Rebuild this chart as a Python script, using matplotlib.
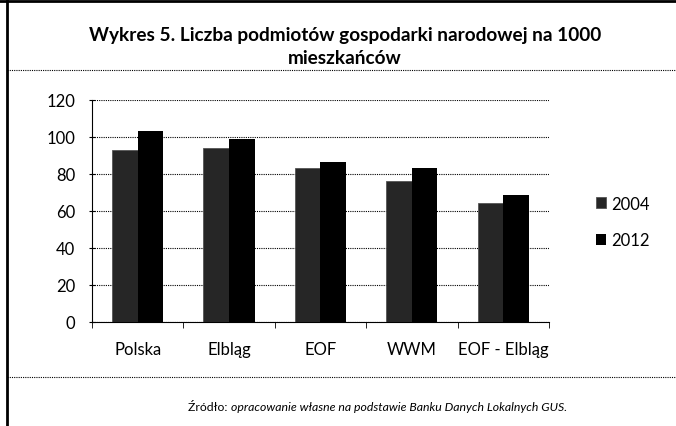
import matplotlib.pyplot as plt
import numpy as np
from matplotlib.lines import Line2D

plt.rcParams['font.family'] = ['Lato', 'DejaVu Sans']

categories = ['Polska', 'Elbląg', 'EOF', 'WWM', 'EOF - Elbląg']
years = ['2004', '2012']
v2004 = [93, 94, 83, 76, 64.5]
v2012 = [103, 99, 86.5, 83, 68.5]


def main():
    fig = plt.figure(figsize=(6.76, 4.27), dpi=100)
    ax = fig.add_axes([0.136, 0.2436, 0.676, 0.5205])

    x = np.arange(len(categories))
    w = 0.28
    ax.bar(x - w / 2, v2004, w, color='#262626', edgecolor='#555555',
           linewidth=0.6, label=years[0], zorder=3)
    ax.bar(x + w / 2, v2012, w, color='black', label=years[1], zorder=3)

    ax.set_ylim(0, 120)
    ax.set_yticks(range(0, 121, 20))
    ax.set_xlim(-0.5, len(categories) - 0.5)
    ax.set_xticks(x)
    ax.set_xticklabels(categories, fontsize=12)
    ax.set_xticks(np.arange(-0.5, len(categories), 1), minor=True)
    ax.tick_params(axis='x', which='major', length=0, pad=14)
    ax.tick_params(axis='x', which='minor', length=4, direction='out')
    ax.tick_params(axis='y', labelsize=12, length=4, pad=10, direction='inout')
    ax.grid(axis='y', color='black', linestyle=(0, (1, 1)), linewidth=0.8, zorder=0)
    for s in ['top', 'right']:
        ax.spines[s].set_visible(False)

    ax.legend(loc='center left', bbox_to_anchor=(1.085, 0.45), frameon=False,
              fontsize=12, handlelength=0.6, handleheight=0.6, borderpad=0,
              handletextpad=0.3, labelspacing=1.25)

    fig.text(0.51, 0.918, 'Wykres 5. Liczba podmiotów gospodarki narodowej na 1000',
             ha='center', va='center', fontsize=13.7, fontweight='bold')
    fig.text(0.51, 0.862, 'mieszkańców', ha='center', va='center',
             fontsize=13.7, fontweight='bold')

    fig.text(0.341, 0.045, 'Źródło: ', ha='right', va='center', fontsize=8.8)
    fig.text(0.341, 0.045, 'opracowanie własne na podstawie Banku Danych Lokalnych GUS.',
             ha='left', va='center', fontsize=8.8, style='italic')

    # borders of the document frame
    fig.add_artist(Line2D([0.0, 1.0], [0.995, 0.995], color='black', linewidth=2))
    fig.add_artist(Line2D([0.011, 0.011], [0.0, 0.995], color='black', linewidth=2))
    fig.add_artist(Line2D([0.011, 1.0], [0.834, 0.834], color='black',
                          linewidth=0.8, linestyle=(0, (1, 1))))
    fig.add_artist(Line2D([0.011, 1.0], [0.115, 0.115], color='black',
                          linewidth=0.8, linestyle=(0, (1, 1))))

    fig.savefig('out.png', dpi=100)


if __name__ == '__main__':
    main()
